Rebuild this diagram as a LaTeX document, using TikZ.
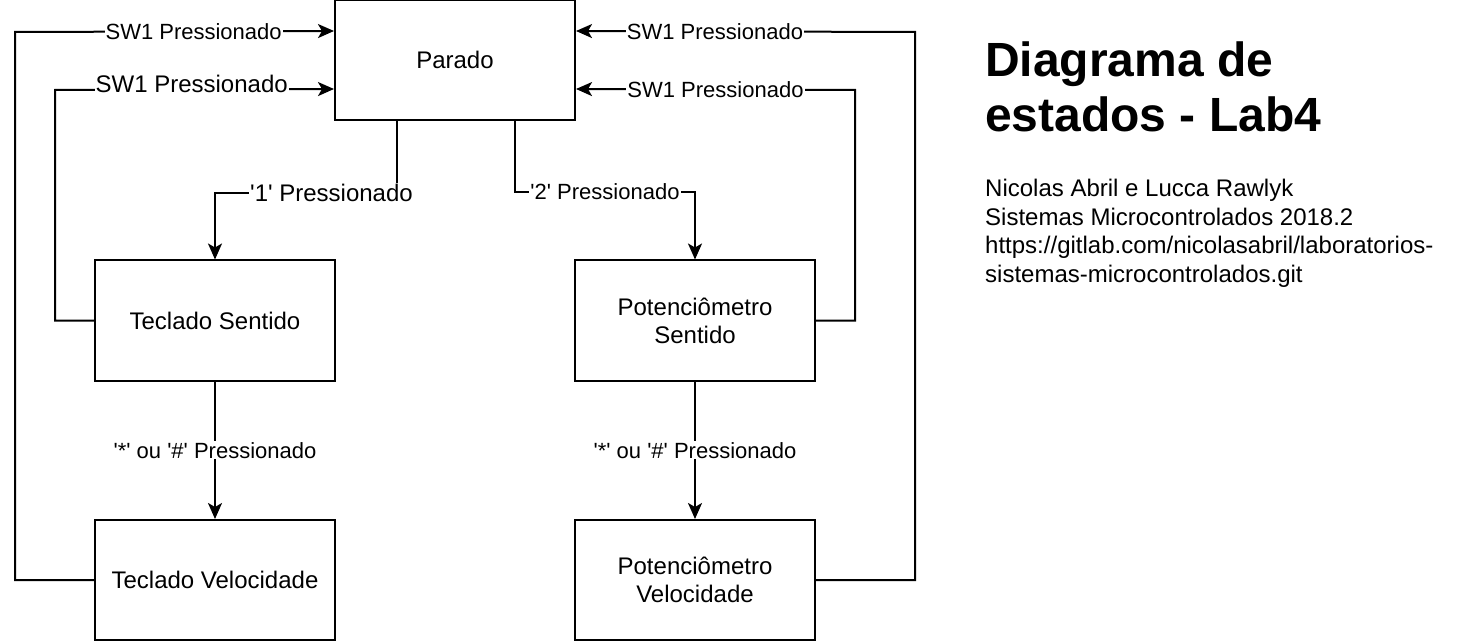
\documentclass[tikz,border=0pt]{standalone}
\usepackage{fontspec}
\setmainfont{Liberation Sans}
\usetikzlibrary{arrows.meta}

\newcommand{\aspa}{\textquotesingle}

\tikzset{
    estado/.style={draw, line width=2pt, minimum width=240pt, minimum height=120pt, align=center, font=\fontsize{24}{28}\selectfont},
    seta/.style={line width=2pt, -{Stealth[length=16pt, width=14pt, inset=4pt]}},
    rotulo/.style={fill=white, inner sep=1pt, font=\fontsize{22}{26}\selectfont}
}

\begin{document}
\begin{tikzpicture}[x=1pt, y=-1pt]
    \useasboundingbox (0,0) rectangle (1458,644);

    \node[estado] (P) at (455,60) {Parado};
    \node[estado] (TS) at (215,320.5) {Teclado Sentido};
    \node[estado] (PS) at (695,320.5) {Potenciômetro\\Sentido};
    \node[estado] (TV) at (215,580) {Teclado Velocidade};
    \node[estado] (PV) at (695,580) {Potenciômetro\\Velocidade};

    \draw[seta] ([xshift=-58pt]P.south) -- ++(0,72) -| node[rotulo, pos=0.18, font=\fontsize{24}{28}\selectfont] {\aspa1\aspa{} Pressionado} (TS.north);
    \draw[seta] ([xshift=60pt]P.south) -- ++(0,71) -| node[rotulo, pos=0.25] {\aspa2\aspa{} Pressionado} (PS.north);

    \draw[seta] (TS) -- node[rotulo] {\aspa*\aspa{} ou \aspa\#\aspa{} Pressionado} (TV);
    \draw[seta] (PS) -- node[rotulo] {\aspa*\aspa{} ou \aspa\#\aspa{} Pressionado} (PV);

    % voltas para Parado
    \draw[seta] (TV.west) -| (15,32) -- node[rotulo, pos=0.56] {SW1 Pressionado} ([yshift=-32pt]P.north west);
    \draw[seta] (TS.west) -| (55,90) -- node[rotulo, pos=0.49, yshift=6pt, font=\fontsize{24}{28}\selectfont] {SW1 Pressionado} ([yshift=-90pt]P.north west);
    \draw[seta] (PV.east) -| (915,32) -- node[rotulo, pos=0.59] {SW1 Pressionado} ([yshift=-32pt]P.north east);
    \draw[seta] (PS.east) -| (855,90) -- node[rotulo, pos=0.50] {SW1 Pressionado} ([yshift=-90pt]P.north east);

    \node[anchor=base west, align=left, inner sep=0pt, font=\fontsize{48}{55}\selectfont\bfseries] (T) at (985,132) {Diagrama de\\estados - Lab4};
    \node[anchor=base west, align=left, inner sep=0pt, font=\fontsize{24}{28.5}\selectfont] (N) at (985,282) {Nicolas Abril e Lucca Rawlyk\\Sistemas Microcontrolados 2018.2\\https://gitlab.com/nicolasabril/laboratorios-\\sistemas-microcontrolados.git};
\end{tikzpicture}
\end{document}
